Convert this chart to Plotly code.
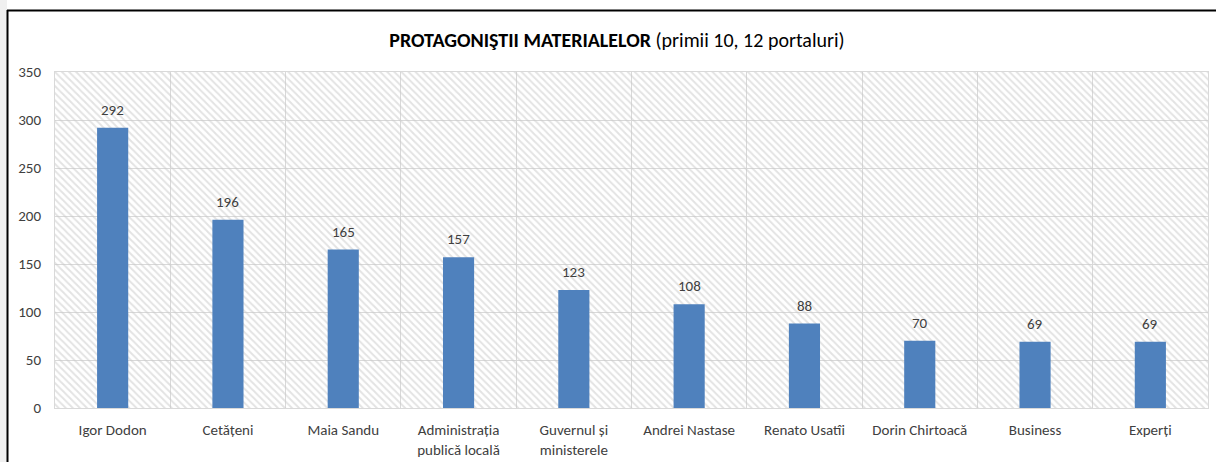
import plotly.graph_objects as go

categories = ["Igor Dodon", "Cetățeni", "Maia Sandu", "Administrația<br>publică locală",
              "Guvernul și<br>ministerele", "Andrei Nastase", "Renato Usatîi",
              "Dorin Chirtoacă", "Business", "Experți"]
values = [292, 196, 165, 157, 123, 108, 88, 70, 69, 69]
y_max = 350
y_ticks = [0, 50, 100, 150, 200, 250, 300, 350]

FONT = "Carlito, Lato, sans-serif"

fig = go.Figure()
# hatched plot-area background, one band per category
fig.add_trace(go.Bar(
    x=categories, y=[y_max] * len(categories), width=1,
    marker=dict(color="rgba(0,0,0,0)", line=dict(width=0),
                pattern=dict(shape="\\", fgcolor="#c8c8c8", bgcolor="rgba(0,0,0,0)",
                             size=5, solidity=0.4)),
    hoverinfo="skip", showlegend=False))
fig.add_trace(go.Bar(
    x=categories, y=values, width=0.27,
    marker=dict(color="#4f81bd", line=dict(width=0)),
    hoverinfo="x+y", showlegend=False))

annotations = [dict(x=c, y=v, xref="x", yref="y", text=str(v), showarrow=False,
                    yanchor="bottom", yshift=7,
                    font=dict(family=FONT, size=15, color="#404040"))
               for c, v in zip(categories, values)]

L, R, T, B = 55, 8, 72, 54
W, H = 1216, 462
pw, ph = W - L - R, H - T - B
def px(x): return (x - L) / pw
def py(y): return (H - B - y) / ph

fig.update_layout(
    width=W, height=H, barmode="overlay",
    margin=dict(l=L, r=R, t=T, b=B, autoexpand=False),
    paper_bgcolor="white", plot_bgcolor="white",
    font=dict(family=FONT, size=15, color="#404040"),
    title=dict(text="<b>PROTAGONIŞTII MATERIALELOR</b> (primii 10, 12 portaluri)",
               x=617 / W, xref="container", xanchor="center", y=1 - 40 / H, yanchor="middle",
               font=dict(family=FONT, size=20, color="#000000")),
    xaxis=dict(type="category", tickson="boundaries", showgrid=True, gridcolor="#d9d9d9",
               gridwidth=1, ticks="", showline=True, linecolor="#d9d9d9", mirror=True,
               automargin=False,
               tickfont=dict(family=FONT, size=15, color="#404040"), ticklabelstandoff=8),
    yaxis=dict(range=[0, y_max], tickvals=y_ticks, showgrid=True, gridcolor="#d9d9d9",
               ticks="", showline=True, linecolor="#d9d9d9", mirror=True, zeroline=False,
               automargin=False,
               tickfont=dict(family=FONT, size=15, color="#404040"), ticklabelstandoff=10),
    annotations=annotations,
    shapes=[
        dict(type="rect", xref="paper", yref="paper", x0=px(0), x1=px(7), y0=py(462), y1=py(0),
             fillcolor="#f0f0f0", line=dict(width=0), layer="below"),
        dict(type="line", xref="paper", yref="paper", x0=px(7.5), x1=px(7.5), y0=py(462), y1=py(10),
             line=dict(color="#000000", width=2)),
        dict(type="line", xref="paper", yref="paper", x0=px(7), x1=px(1216), y0=py(10.5), y1=py(10.5),
             line=dict(color="#000000", width=2)),
    ],
)

fig.write_html("out.html", config={"displayModeBar": False},
               post_script="document.body.style.margin='0';document.body.style.overflow='hidden';")
